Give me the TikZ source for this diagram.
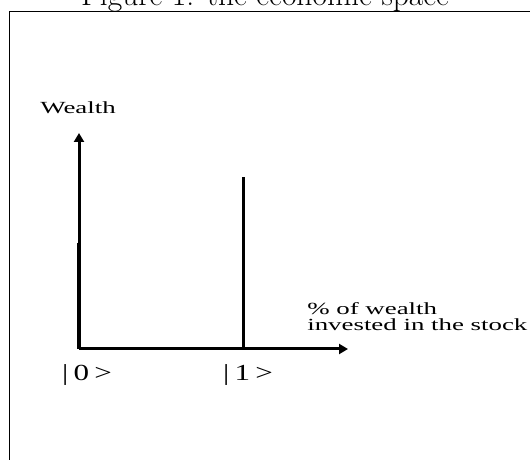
\documentclass[tikz,border=0pt]{standalone}
\usepackage{fontspec}
\newfontfamily\timesfont{Liberation Serif}
\usetikzlibrary{arrows.meta, positioning}

\begin{document}
\begin{tikzpicture}[x=1pt, y=1pt, >={Triangle[length=9pt,width=10pt]},
  axis/.style={line width=3pt},
  lbl/.style={font=\timesfont\fontsize{17}{16}\selectfont, xscale=1.58, inner sep=0pt},
  ket/.style={font=\timesfont\fontsize{23}{23}\selectfont, xscale=1.35, inner sep=0pt}]
  \useasboundingbox (0,0) rectangle (530,460);
  \clip (0,0) rectangle (530,460);
  % frame and caption
  \draw[line width=1.5pt] (9.5,-20) -- (9.5,448.5) -- (560,448.5);
  \node[anchor=base, inner sep=0pt, font=\fontsize{31.5}{36}\selectfont] (title) at (265,454.5) {Figure 1: the economic space};
  % axes
  \coordinate (O) at (79,111);
  \coordinate (ytip) at (79,327);
  \coordinate (xtip) at (348,111);
  \coordinate (ylow) at (77.5,217);
  \draw[->, axis] (O) -- (ytip);
  \draw[->, axis] (O) -- (xtip);
  \draw[line width=1.5pt] (ylow) -- (ylow |- O);
  \node[lbl] (wealth) at (78,352) {Wealth};
  \node[lbl, anchor=west, align=left] (share) at (307,143) {\% of wealth\\invested in the stock};
  % states
  \coordinate (one) at (243.5,111);
  \coordinate (onetop) at (243.5,283);
  \draw[line width=2.6pt] (one) -- (onetop);
  \node[ket] (ket0) at (87,85) {|\,0\,>};
  \node[ket] (ket1) at (248,85) {|\,1\,>};
\end{tikzpicture}
\end{document}
